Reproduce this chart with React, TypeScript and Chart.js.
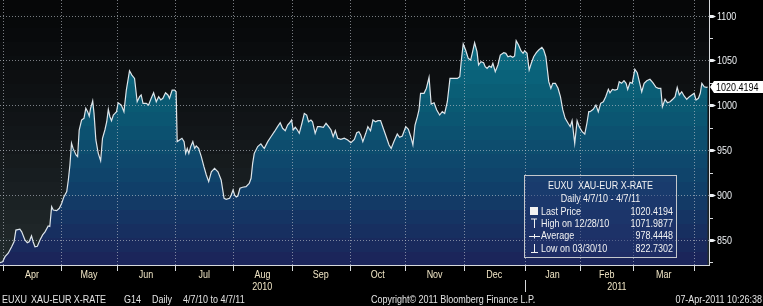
import React, { useEffect, useRef } from "react";
import { Chart, registerables } from "chart.js";

Chart.register(...registerables);

// ---- data ----
// x = trading-day index counted from 1 Apr 2010 (weekdays)
const tradingDay: number[] = [
  -1.1, -0.1, 0.8, 2.0, 3.3, 4.2, 4.9, 6.4, 7.1, 8.3,
  9.2, 9.9, 10.8, 11.4, 12.1, 13.0, 14.0, 15.0, 15.9, 17.1,
  17.7, 18.4, 19.0, 20.3, 21.3, 22.2, 23.0, 24.1, 24.7, 25.3,
  25.9, 26.5, 27.6, 28.2, 28.8, 29.7, 30.6, 31.3, 32.0, 32.6,
  33.1, 33.9, 34.4, 35.1, 36.0, 36.9, 37.6, 38.5, 39.2, 39.8,
  40.4, 41.0, 41.7, 42.3, 42.9, 43.5, 44.7, 45.7, 46.6, 47.8,
  48.7, 49.7, 50.7, 51.6, 52.2, 52.9, 54.1, 55.0, 56.0, 56.9,
  57.9, 58.8, 59.6, 60.4, 61.4, 62.3, 62.9, 63.9, 64.8, 65.4,
  65.8, 66.7, 67.6, 68.4, 69.0, 69.6, 70.2, 70.9, 71.7, 72.4,
  73.0, 73.9, 74.9, 75.9, 76.8, 77.7, 78.7, 79.9, 81.2, 82.4,
  83.5, 84.3, 85.6, 86.2, 86.9, 87.5, 88.1, 88.7, 89.5, 90.5,
  91.8, 93.0, 93.7, 94.3, 94.9, 96.2, 97.4, 98.1, 98.7, 100.0,
  101.2, 102.5, 103.7, 104.7, 105.6, 106.6, 107.5, 108.1, 109.0, 109.6,
  110.4, 111.0, 111.9, 112.9, 113.8, 114.7, 115.4, 116.3, 116.9, 117.9,
  118.8, 119.7, 121.0, 122.0, 123.0, 123.9, 124.7, 125.5, 126.4, 127.6,
  128.9, 130.2, 131.4, 132.7, 133.6, 134.4, 135.1, 135.9, 137.0, 137.8,
  138.8, 139.7, 140.7, 141.6, 142.6, 143.6, 144.5, 145.8, 146.6, 147.6,
  148.9, 149.8, 150.8, 152.1, 153.1, 154.0, 154.8, 155.6, 156.5, 157.1,
  157.7, 159.0, 159.9, 160.9, 161.7, 162.8, 163.8, 164.9, 165.9, 166.8,
  167.8, 168.8, 170.0, 171.6, 172.5, 173.1, 173.8, 174.7, 175.7, 176.6,
  177.2, 178.1, 179.0, 179.6, 180.5, 181.5, 182.1, 182.8, 183.6, 184.4,
  185.0, 185.9, 186.9, 187.8, 189.1, 189.9, 190.7, 191.6, 192.5, 193.2,
  193.8, 194.7, 195.6, 196.4, 197.0, 197.9, 198.7, 199.5, 200.4, 201.4,
  202.3, 203.5, 204.2, 205.0, 206.1, 206.9, 207.6, 208.6, 209.6, 210.5,
  211.4, 212.3, 213.4, 214.2, 214.9, 215.9, 216.8, 217.6, 218.7, 219.7,
  220.5, 221.2, 221.7, 222.9, 223.9, 224.8, 225.7, 226.7, 227.6, 228.6,
  229.2, 230.1, 231.1, 232.0, 232.7, 233.6, 234.5, 235.3, 235.9, 236.8,
  237.6, 238.6, 239.5, 240.3, 241.2, 242.1, 243.1, 244.3, 245.4, 246.6,
  247.5, 248.4, 249.0, 250.0, 250.9, 251.9, 252.9, 253.8, 254.6, 255.4,
  256.3, 257.2, 258.2, 259.2, 260.1, 261.0, 261.7, 262.6, 263.3, 263.9,
  264.8, 265.6, 266.1,
];

const price: number[] = [
  824.7, 825.8, 831.4, 835.2, 842.5, 848, 861, 862, 859, 850,
  847, 848, 854.5, 848, 842.5, 843, 850, 855.6, 859, 865.6,
  865, 887, 883.4, 882.6, 885.3, 891, 898, 903.8, 916.8, 933.5,
  957.7, 952, 944.7, 942.8, 972.5, 983.6, 985.5, 996.7, 992.9, 988,
  996.7, 1005, 991, 961.4, 946.5, 938.3, 963.3, 972.5, 981.7, 995.5,
  987.3, 982.9, 989.2, 991, 992.9, 1002.9, 1000.3, 992.9, 1017, 1038.5,
  1033.7, 1030, 1004, 1009.6, 1011.5, 1002.2, 1002.2, 1000.3, 1007.8, 1014,
  1004, 1009.6, 1006, 1007.8, 1014, 1011.5, 1007.8, 1017, 1017, 1015,
  959.5, 961.4, 963.3, 959.5, 946.5, 952, 946.5, 954, 959.5, 952,
  954.7, 952, 942.8, 931.6, 922.4, 915, 926, 929.8, 926, 916.8,
  896.4, 895.3, 896.4, 900, 905.7, 900, 898, 899, 907.6, 908.7,
  909.4, 913, 918.7, 935.4, 946.5, 954, 957, 954, 952, 959.5,
  965, 970.6, 976.2, 980.6, 974.4, 971.7, 978, 980, 983.6, 972.5,
  975.5, 973.3, 968.8, 980, 991, 989.2, 981.7, 983.6, 981.7, 968.8,
  976.2, 976.2, 975.5, 980, 976.2, 972.5, 965, 971.7, 963.3, 962.1,
  963.3, 961.4, 958.4, 962, 969.5, 970.6, 967, 959.5, 968.8, 976.2,
  971.7, 983.6, 981.7, 982.9, 982.9, 974.4, 967, 955.8, 952, 959.5,
  968, 964.4, 965.8, 976.2, 973.3, 965, 955.8, 978, 987.3, 994.8,
  1013.4, 1013.4, 1019, 1031.2, 1001.4, 1002.9, 994.8, 989.2, 992.9, 991,
  1004, 1030, 1030, 1030, 1031.8, 1050.4, 1068.3, 1061.6, 1052.3, 1050.4,
  1057.9, 1069.7, 1059.7, 1044.9, 1048.6, 1047.4, 1043, 1041.2, 1043.8, 1042.3,
  1046.8, 1037.4, 1044.9, 1056, 1058.6, 1057.9, 1054.1, 1054.9, 1053.5, 1054.9,
  1071.9, 1067.1, 1060.8, 1057.9, 1060.8, 1057.9, 1039.3, 1046.8, 1054.1, 1058.6,
  1061.6, 1064.6, 1061.6, 1054.1, 1026.3, 1018.9, 1024.5, 1024.5, 1018.9, 1009.6,
  994.8, 985.5, 980, 976.2, 982.9, 957.7, 982.9, 976.2, 970.6, 968,
  980, 992.9, 992.9, 995.5, 1000.3, 992.9, 1002.2, 1004, 1009.6, 1017.8,
  1014, 1017.8, 1017, 1017.8, 1026.3, 1024.5, 1027.4, 1024.5, 1017.8, 1025.6,
  1024.5, 1040.1, 1036.3, 1026.3, 1015.1, 1024.5, 1027.4, 1029, 1025.2, 1020,
  1018.9, 1018.9, 998.4, 1006.7, 1002.9, 1004, 1006.7, 1009.6, 1020, 1011.5,
  1015.1, 1010.4, 1006.7, 1009.6, 1011.5, 1013.4, 1005.9, 1007.8, 1013.4, 1024.5,
  1020.7, 1020, 1020.4,
];

const xMin = -1.1;
const xMax = 266.6;
const yMin = 821;
const yMax = 1117.3;

const yTicks = [850, 900, 950, 1000, 1050, 1100];
const yMinorTicks = [825, 875, 925, 975, 1025, 1075];

const monthBounds = [0, 22, 43, 65, 87, 109, 131, 152, 174, 197, 218, 238, 261];
const monthLabels = ["Apr", "May", "Jun", "Jul", "Aug", "Sep", "Oct", "Nov", "Dec", "Jan", "Feb", "Mar"];
const yearBounds = [xMin, 197, xMax];
const yearLabels = ["2010", "2011"];

const lastPriceText = "1020.4194";
const legendTitle = "EUXU  XAU-EUR X-RATE";
const legendSubtitle = "Daily 4/7/10 - 4/7/11";
const legendNames = ["Last Price", "High on 12/28/10", "Average", "Low on 03/30/10"];
const legendValues = ["1020.4194", "1071.9877", "978.4448", "822.7302"];

const footerLeft = ["EUXU", "XAU-EUR X-RATE", "G14", "Daily", "4/7/10 to 4/7/11"];
const footerCenter = "Copyright\u00A9 2011 Bloomberg Finance L.P.";
const footerRight = "07-Apr-2011 10:26:38";

// ---- styling ----
const FONT = '"Liberation Sans", Arial, sans-serif';
const NARROW = 0.78;
const BG_STOPS: [number, string][] = [
  [0, "#050607"],
  [0.5, "#121619"],
  [1, "#232c2e"],
];
const FILL_STOPS: [number, string][] = [
  [0, "#0c7a8e"],
  [0.15, "#0b6c82"],
  [0.4, "#0a5a73"],
  [0.7, "#10406a"],
  [1, "#1c2258"],
];

function hexToRgb(h: string) {
  const n = parseInt(h.slice(1), 16);
  return [(n >> 16) & 255, (n >> 8) & 255, n & 255];
}
function colorAt(stops: [number, string][], t: number) {
  for (let i = 0; i < stops.length - 1; i++) {
    const [t0, c0] = stops[i];
    const [t1, c1] = stops[i + 1];
    if (t <= t1) {
      const f = (t - t0) / (t1 - t0);
      const a = hexToRgb(c0);
      const b = hexToRgb(c1);
      return `rgb(${Math.round(a[0] + (b[0] - a[0]) * f)},${Math.round(a[1] + (b[1] - a[1]) * f)},${Math.round(
        a[2] + (b[2] - a[2]) * f
      )})`;
    }
  }
  return stops[stops.length - 1][1];
}
function bandGradient(ctx: CanvasRenderingContext2D, top: number, bottom: number, stops: [number, string][], n: number) {
  const g = ctx.createLinearGradient(0, top, 0, bottom);
  for (let k = 0; k < n; k++) {
    const c = colorAt(stops, (k + 0.5) / n);
    g.addColorStop(k / n, c);
    g.addColorStop((k + 1) / n, c);
  }
  return g;
}
function txt(ctx: CanvasRenderingContext2D, s: string, x: number, y: number, align: CanvasTextAlign) {
  ctx.save();
  ctx.translate(x, y);
  ctx.scale(NARROW, 1);
  ctx.textAlign = align;
  ctx.textBaseline = "middle";
  ctx.fillText(s, 0, 0);
  ctx.restore();
}

const bbgPlugin = {
  id: "bbg",
  beforeDraw(chart: any) {
    const { ctx, chartArea: a, width, height } = chart;
    ctx.save();
    ctx.fillStyle = "#000";
    ctx.fillRect(0, 0, width, height);
    ctx.fillStyle = bandGradient(ctx, a.top, a.bottom, BG_STOPS, 19);
    ctx.fillRect(a.left, a.top, a.right - a.left, a.bottom - a.top);
    ctx.restore();
  },
  beforeDatasetsDraw(chart: any) {
    const { ctx, chartArea: a, scales } = chart;
    const xs = scales.x;
    const ys = scales.y;
    ctx.save();
    ctx.strokeStyle = "rgba(190,196,204,0.62)";
    ctx.lineWidth = 1;
    ctx.setLineDash([1, 2]);
    yTicks.forEach((v) => {
      const y = Math.round(ys.getPixelForValue(v)) + 0.5;
      ctx.beginPath();
      ctx.moveTo(a.left, y);
      ctx.lineTo(a.right, y);
      ctx.stroke();
    });
    monthBounds.forEach((d) => {
      const x = Math.round(xs.getPixelForValue(d)) + 0.5;
      ctx.beginPath();
      ctx.moveTo(x, a.top);
      ctx.lineTo(x, a.bottom);
      ctx.stroke();
    });
    ctx.restore();
  },
  afterDraw(chart: any) {
    const { ctx, chartArea: a, scales, width } = chart;
    const xs = scales.x;
    const ys = scales.y;
    ctx.save();
    ctx.setLineDash([]);
    ctx.font = `11.5px ${FONT}`;

    // axis lines
    ctx.strokeStyle = "#d6d9dc";
    ctx.lineWidth = 1;
    ctx.beginPath();
    ctx.moveTo(a.right + 0.5, a.top);
    ctx.lineTo(a.right + 0.5, a.bottom);
    ctx.stroke();
    ctx.beginPath();
    ctx.moveTo(a.left, a.bottom - 0.5);
    ctx.lineTo(a.right + 1, a.bottom - 0.5);
    ctx.stroke();

    // y ticks
    ctx.fillStyle = "#eef1f4";
    yTicks.forEach((v) => {
      const y = Math.round(ys.getPixelForValue(v)) + 0.5;
      ctx.beginPath();
      ctx.moveTo(a.right + 1, y - 1.5);
      ctx.lineTo(a.right + 4, y - 1.5);
      ctx.lineTo(a.right + 7, y);
      ctx.lineTo(a.right + 4, y + 1.5);
      ctx.lineTo(a.right + 1, y + 1.5);
      ctx.closePath();
      ctx.fill();
      txt(ctx, String(v), a.right + 8, y + 0.5, "left");
    });
    ctx.strokeStyle = "#d6d9dc";
    yMinorTicks.forEach((v) => {
      const y = Math.round(ys.getPixelForValue(v)) + 0.5;
      ctx.beginPath();
      ctx.moveTo(a.right + 1, y);
      ctx.lineTo(a.right + 4, y);
      ctx.stroke();
    });

    // last price tag
    const lastY = ys.getPixelForValue(price[price.length - 1]);
    ctx.fillStyle = "#ffffff";
    ctx.beginPath();
    ctx.moveTo(a.right + 1, lastY);
    ctx.lineTo(a.right + 5, lastY - 6);
    ctx.lineTo(width, lastY - 6);
    ctx.lineTo(width, lastY + 6);
    ctx.lineTo(a.right + 5, lastY + 6);
    ctx.closePath();
    ctx.fill();
    ctx.fillStyle = "#000";
    txt(ctx, lastPriceText, a.right + 7, lastY + 0.5, "left");

    // x ticks, months, years
    ctx.strokeStyle = "#d6d9dc";
    monthBounds.forEach((d) => {
      const x = Math.round(xs.getPixelForValue(d)) + 0.5;
      ctx.beginPath();
      ctx.moveTo(x, a.bottom);
      ctx.lineTo(x, a.bottom + 5);
      ctx.stroke();
    });
    ctx.fillStyle = "#f1e6c6";
    monthLabels.forEach((m, i) => {
      const x = (xs.getPixelForValue(monthBounds[i]) + xs.getPixelForValue(monthBounds[i + 1])) / 2;
      txt(ctx, m, x, a.bottom + 9, "center");
    });
    yearLabels.forEach((yl, i) => {
      const x = (xs.getPixelForValue(yearBounds[i]) + xs.getPixelForValue(yearBounds[i + 1])) / 2;
      txt(ctx, yl, x, a.bottom + 20.5, "center");
    });
    for (let i = 1; i < yearBounds.length - 1; i++) {
      const x = Math.round(xs.getPixelForValue(yearBounds[i])) + 0.5;
      ctx.beginPath();
      ctx.moveTo(x, a.bottom + 14);
      ctx.lineTo(x, a.bottom + 26);
      ctx.stroke();
    }

    // footer
    const fy = a.bottom + 33.5;
    ctx.fillStyle = "#e4e4e4";
    const footerX = [2, 31, 124, 152, 183];
    footerLeft.forEach((t, i) => txt(ctx, t, footerX[i], fy, "left"));
    txt(ctx, footerCenter, 371, fy, "left");
    txt(ctx, footerRight, width - 1, fy, "right");

    // legend box
    const bx = 524.5, by = 175.5, bw = 152, bh = 82;
    ctx.fillStyle = "rgba(38,55,115,0.45)";
    ctx.fillRect(bx, by, bw, bh);
    ctx.strokeStyle = "#c4c8cc";
    ctx.strokeRect(bx, by, bw, bh);
    ctx.fillStyle = "#f2f2f2";
    txt(ctx, legendTitle, bx + bw / 2, by + 10.5, "center");
    txt(ctx, legendSubtitle, bx + bw / 2, by + 23.5, "center");
    const rowY = [211.5, 223.5, 236, 248.5];
    legendNames.forEach((n, i) => {
      txt(ctx, n, 541, rowY[i], "left");
      txt(ctx, legendValues[i], 673, rowY[i], "right");
    });
    // symbols
    ctx.fillRect(530, rowY[0] - 4.5, 8, 8);
    ctx.strokeStyle = "#f2f2f2";
    ctx.beginPath();
    ctx.moveTo(531, rowY[1] - 4.5);
    ctx.lineTo(537, rowY[1] - 4.5);
    ctx.moveTo(534.5, rowY[1] - 4.5);
    ctx.lineTo(534.5, rowY[1] + 4.5);
    ctx.moveTo(529, Math.round(rowY[2]) + 0.5);
    ctx.lineTo(540, Math.round(rowY[2]) + 0.5);
    ctx.moveTo(534.5, rowY[2] - 2);
    ctx.lineTo(534.5, rowY[2] + 2.5);
    ctx.moveTo(534.5, rowY[3] - 4.5);
    ctx.lineTo(534.5, rowY[3] + 4);
    ctx.moveTo(531, rowY[3] + 4);
    ctx.lineTo(538, rowY[3] + 4);
    ctx.stroke();

    ctx.restore();
  },
};

export default function App() {
  const ref = useRef<HTMLCanvasElement>(null);
  useEffect(() => {
    document.body.style.margin = "0";
    document.body.style.background = "#000";
    const canvas = ref.current!;
    const n = Math.min(tradingDay.length, price.length);
    const points = [];
    for (let i = 0; i < n; i++) points.push({ x: tradingDay[i], y: price[i] });
    const chart = new Chart(canvas, {
      type: "line",
      data: {
        datasets: [
          {
            data: points,
            borderColor: "#dde5ea",
            borderWidth: 1.2,
            pointRadius: 0,
            tension: 0,
            fill: "start",
            backgroundColor: (c: any) => {
              const a = c.chart.chartArea;
              if (!a) return "rgba(0,0,0,0)";
              return bandGradient(c.chart.ctx, a.top, a.bottom, FILL_STOPS, 19);
            },
          },
        ],
      },
      options: {
        responsive: false,
        animation: false,
        events: [],
        layout: { padding: { left: 0, top: 0, right: 54, bottom: 40 } },
        scales: {
          x: { type: "linear", min: xMin, max: xMax, display: false },
          y: { type: "linear", min: yMin, max: yMax, display: false },
        },
        plugins: {
          legend: { display: false },
          tooltip: { enabled: false },
          filler: { drawTime: "beforeDatasetsDraw" },
        } as any,
      },
      plugins: [bbgPlugin],
    } as any);
    return () => chart.destroy();
  }, []);
  return (
    <div style={{ width: 763, height: 306 }}>
      <canvas ref={ref} width={763} height={306} style={{ display: "block", width: 763, height: 306 }} />
    </div>
  );
}
